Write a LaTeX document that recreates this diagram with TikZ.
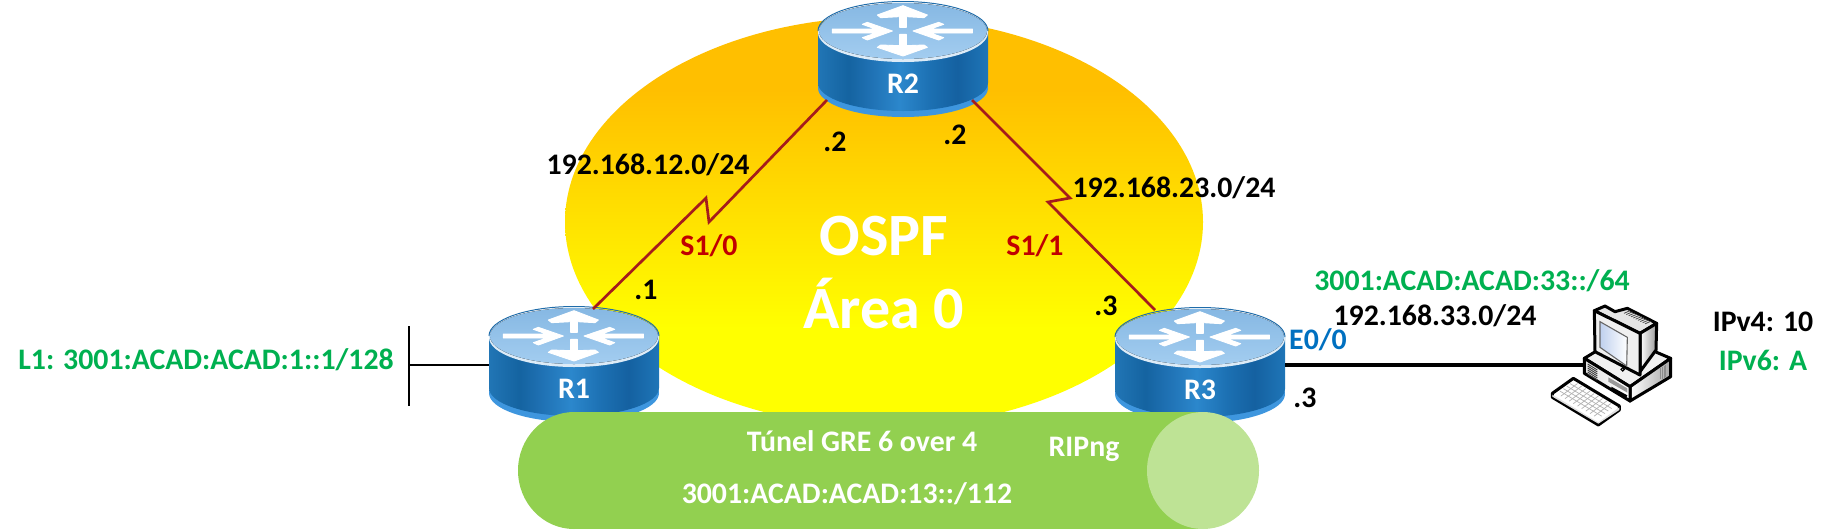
\documentclass[tikz,border=0pt]{standalone}
\usepackage{fontspec}
\setmainfont{Carlito}
\usetikzlibrary{calc}

\definecolor{tunnelGreen}{HTML}{92D050}
\definecolor{tunnelCap}{HTML}{BEE395}
\definecolor{serialRed}{HTML}{A51C1C}
\definecolor{labelRed}{HTML}{C00000}
\definecolor{labelGreen}{HTML}{00B050}
\definecolor{labelBlue}{HTML}{0070C0}
\definecolor{rimBlue}{HTML}{3E96DE}
\definecolor{rimDark}{HTML}{1F6CAA}
\definecolor{deckTop}{HTML}{86B8E3}
\definecolor{deckBottom}{HTML}{A3CDF0}
\definecolor{deckEdge}{HTML}{DCEBF7}
\definecolor{screenBlue}{HTML}{BFD0EE}

% Fill of the OSPF area: yellow below, orange above
\pgfdeclareverticalshading{ospfarea}{100bp}{
  rgb(0bp)=(1,1,0);
  rgb(37bp)=(1,1,0);
  rgb(66bp)=(1,0.75,0);
  rgb(100bp)=(1,0.75,0)}

% Cylinder wall of the router symbol, lit from the middle
\pgfdeclarehorizontalshading{routerside}{100bp}{
  rgb(0bp)=(0.13,0.46,0.71);
  rgb(25bp)=(0.13,0.46,0.71);
  rgb(34bp)=(0.08,0.39,0.63);
  rgb(40bp)=(0.12,0.44,0.70);
  rgb(49bp)=(0.17,0.53,0.80);
  rgb(58bp)=(0.11,0.44,0.70);
  rgb(66bp)=(0.08,0.38,0.63);
  rgb(75bp)=(0.12,0.46,0.72);
  rgb(100bp)=(0.12,0.46,0.72)}

\tikzset{
  lbl/.style={inner sep=0pt,font=\fontsize{29.8}{35}\selectfont\bfseries},
  biglbl/.style={inner sep=0pt,anchor=base,white,font=\fontsize{60}{70}\selectfont\bfseries},
  routerbox/.style={inner sep=0pt,minimum width=170pt,minimum height=115pt},
  serial/.style={draw=serialRed,line width=2.7pt,line join=miter},
  plainlink/.style={draw=black,line width=2.2pt},
  ethernet/.style={draw=black,line width=3.8pt},
  arrowglyph/.style={fill=white,draw=white,line width=0.9pt,line join=round},
  pcline/.style={draw=black,line width=3pt,line join=round}
}

% Router symbol centred on the middle of its top deck
\newcommand{\routersymbol}[2]{%
  \begin{scope}[shift={(#1,#2)}]
    \fill[rimBlue] (0,57) ellipse[x radius=85,y radius=29];
    \path[shading=routerside]
      (-85,0) -- (-85,52) arc[start angle=180,end angle=0,x radius=85,y radius=28] -- (85,0) -- cycle;
    \fill[deckEdge] (0,1.5) ellipse[x radius=85,y radius=29.5];
    \fill[top color=deckTop,bottom color=deckBottom] (0,0) ellipse[x radius=84,y radius=28];
    \draw[rimDark,line width=1pt] (-85,0) arc[start angle=180,end angle=360,x radius=85,y radius=29.5];
    \begin{scope}[x=1pt/3,y=-1pt/3,shift={(-282,-138)}]
      \path[arrowglyph] (272,127) -- (272,95) -- (215,98) -- (205,90) -- (282,62) -- (355,90) -- (345,98) -- (292,95) -- (292,127) -- cycle;
      \path[arrowglyph] (272,148) -- (272,182) -- (215,180) -- (205,187) -- (282,213) -- (355,187) -- (345,180) -- (292,182) -- (292,148) -- cycle;
      \path[arrowglyph] (70,132) -- (200,132) -- (160,118) -- (175,112) -- (250,138) -- (175,165) -- (160,158) -- (200,144) -- (70,144) -- cycle;
      \path[arrowglyph] (490,132) -- (364,132) -- (404,118) -- (389,112) -- (312,138) -- (389,165) -- (404,158) -- (364,144) -- (490,144) -- cycle;
    \end{scope}
  \end{scope}}

\begin{document}
\begin{tikzpicture}[x=1pt,y=-1pt]
  \useasboundingbox (0,0) rectangle (1831,531);

  % OSPF area
  \path[shading=ospfarea] (884,222) ellipse[x radius=319,y radius=205];

  % Routers and their anchor nodes
  \routersymbol{574}{336}
  \routersymbol{903}{31}
  \routersymbol{1200}{337}
  \node[routerbox] (r1) at (574,365) {};
  \node[routerbox] (r2) at (903,60) {};
  \node[routerbox] (r3) at (1200,365) {};
  \node[lbl,white] (r1name) at (574,389) {R1};
  \node[lbl,white] (r2name) at (903,84) {R2};
  \node[lbl,white] (r3name) at (1200,390) {R3};

  % Serial links with their lightning bend
  \coordinate (r1port) at (593,309);
  \coordinate (r2portA) at (827,100);
  \coordinate (r2portB) at (972,100);
  \coordinate (r3port) at (1155,310);
  \draw[serial] (r1port) -- (706,198) -- (709,222) -- (r2portA);
  \draw[serial] (r2portB) -- (1070,198) -- (1048,202) -- (r3port);

  % Loopback stub on R1
  \coordinate (stubtop) at (409,326);
  \coordinate (stubbottom) at (409,406);
  \coordinate (stubmid) at (409,365);
  \draw[plainlink] (stubtop) -- (stubbottom);
  \draw[plainlink] (stubmid) -- (r1.west);

  % PC symbol
  \node[inner sep=0pt,minimum width=88pt,minimum height=120pt] (pc) at (1627,365) {};
  \draw[ethernet] (r3.east |- pc.west) -- (pc.west);
  \begin{scope}[shift={(1540,290)},x=1pt/3,y=-1pt/3]
    % keyboard
    \path[pcline,fill=white] (37,310) -- (100,265) -- (238,348) -- (238,360) -- (175,405) -- (37,322) -- cycle;
    \fill[black!12] (37,314) -- (175,397) -- (238,352) -- (238,360) -- (175,401) -- (37,320) -- cycle;
    \coordinate (ka) at (50,311);
    \coordinate (kb) at (100,273);
    \coordinate (kc) at (225,348);
    \coordinate (kd) at (175,386);
    \foreach \t in {0.2,0.4,0.6,0.8}
      \draw[black!30,line width=0.7pt] ($(ka)!\t!(kb)$) -- ($(kd)!\t!(kc)$);
    \foreach \t in {0.1,0.2,0.3,0.4,0.5,0.6,0.7,0.8,0.9}
      \draw[black!30,line width=0.7pt] ($(ka)!\t!(kd)$) -- ($(kb)!\t!(kc)$);
    % system case
    \path[pcline,fill=black!6] (133,205) -- (240,140) -- (392,205) -- (270,290) -- cycle;
    \path[pcline,left color=white,right color=black!35] (270,290) -- (392,205) -- (392,260) -- (270,333) -- cycle;
    \path[pcline,left color=black!12,right color=white] (133,205) -- (270,290) -- (270,333) -- (133,250) -- cycle;
    \foreach \d in {0,6,12,18,24,30}
      \draw[black!75,line width=0.9pt] (143,222+\d) -- (172,240+\d);
    \fill[black!40] (205,262) -- (262,295) -- (262,308) -- (205,275) -- cycle;
    \fill[black] (214,290) -- (262,316) -- (258,324) -- (214,298) -- cycle;
    \foreach \d in {0,5,10,15}
      \draw[black!45,line width=0.9pt] (362+\d,232-\d*0.5) -- (362+\d,268-\d*0.5);
    % monitor
    \path[pcline,fill=black!10] (163,62) -- (195,48) -- (225,65) -- (262,55) -- (350,100) -- (300,130) -- cycle;
    \foreach \d in {0,5,10,15,20,25,30,35,40,45}
      \draw[black!70,line width=0.8pt] (252+\d*1.4,70+\d*0.7) -- (270+\d*1.4,62+\d*0.7);
    \path[pcline,left color=white,right color=black!40] (300,130) -- (350,100) -- (348,180) -- (300,245) -- cycle;
    \path[pcline,fill=black!6] (163,62) -- (300,130) -- (300,255) -- (165,185) -- cycle;
    \draw[black!60,line width=1.1pt,left color=screenBlue,right color=white] (180,95) -- (262,142) -- (260,228) -- (180,172) -- cycle;
    \draw[black,fill=white,line width=1.2pt] (248,238) circle[radius=5];
  \end{scope}

  % Tunnel drawn as a horizontal can
  \fill[tunnelGreen] (574,470.5) ellipse[x radius=56,y radius=58.5];
  \fill[tunnelGreen] (574,412) rectangle (1203,529);
  \fill[tunnelCap] (1203,470.5) ellipse[x radius=56,y radius=58.5];

  % Area captions
  \node[biglbl] (ospf) at (884,255) {OSPF};
  \node[biglbl] (area) at (884,328) {Área 0};

  % Addressing labels
  \node[lbl,labelGreen] (loopback) at (206,360) {L1: 3001:ACAD:ACAD:1::1/128};
  \node[lbl] (net12) at (648,165) {192.168.12.0/24};
  \node[lbl] (net23) at (1174,188) {192.168.23.0/24};
  \node[lbl] (r2a) at (835,142) {.2};
  \node[lbl] (r2b) at (955,135) {.2};
  \node[lbl] (r1a) at (646,290) {.1};
  \node[lbl] (r3a) at (1106,306) {.3};
  \node[lbl] (r3b) at (1305,398) {.3};
  \node[lbl,labelRed] (s10) at (709,246) {S1/0};
  \node[lbl,labelRed] (s11) at (1035,246) {S1/1};
  \node[lbl,labelGreen] (net33six) at (1472,281) {3001:ACAD:ACAD:33::/64};
  \node[lbl] (net33) at (1435,316) {192.168.33.0/24};
  \node[lbl,labelBlue] (e00) at (1318,340) {E0/0};
  \node[lbl] (ipv4) at (1763,322) {IPv4: 10};
  \node[lbl,labelGreen] (ipv6) at (1763,360) {IPv6: A};

  % Tunnel labels
  \node[lbl,white] (tunnel) at (862,441) {Túnel GRE 6 over 4};
  \node[lbl,white] (ripng) at (1084,449) {RIPng};
  \node[lbl,white] (net13) at (847,494) {3001:ACAD:ACAD:13::/112};
\end{tikzpicture}
\end{document}
